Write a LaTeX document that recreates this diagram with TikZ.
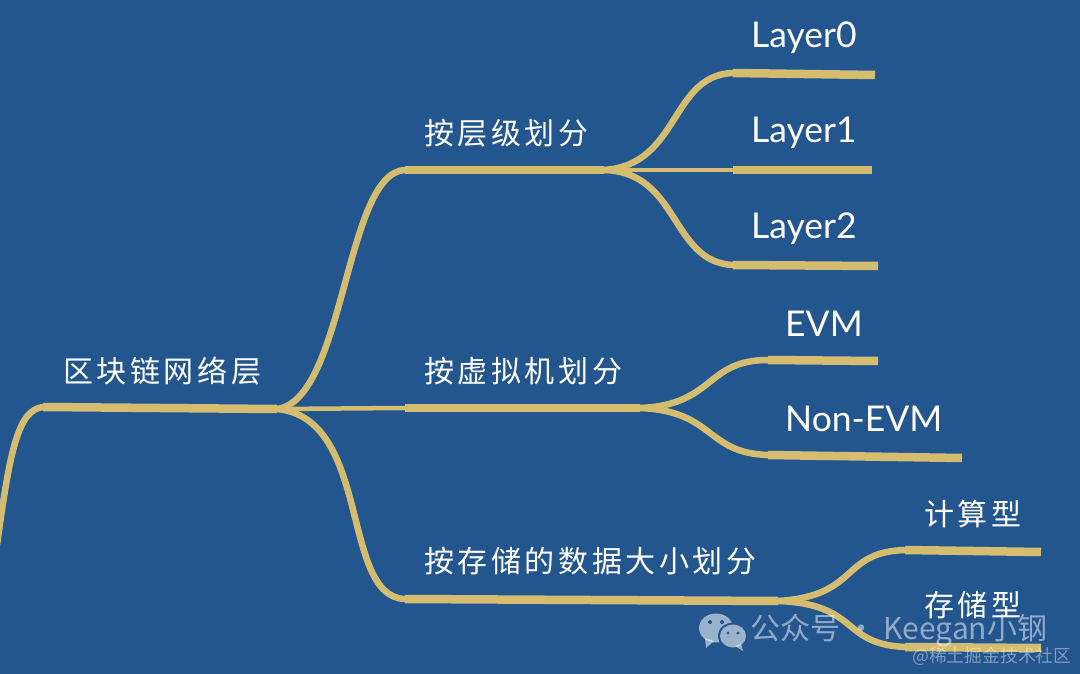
\documentclass[tikz,border=0pt]{standalone}
\usepackage{fontspec}
\setmainfont{Noto Sans CJK SC}
\newfontfamily\cjklabel[LetterSpace=12]{Noto Sans CJK SC}
\newfontfamily\latlabel{Lato}
\newfontfamily\markfont{Noto Sans CJK SC}
\definecolor{bgblue}{HTML}{23558F}
\definecolor{rope}{HTML}{D5BD6F}
\tikzset{
 x=1pt,y=-1pt,
 bar/.style={draw=rope,line width=8.5pt,line cap=butt},
 limb/.style={draw=rope,line width=6.5pt,line cap=round},
 thin limb/.style={draw=rope,line width=4.5pt,line cap=round},
 cnlabel/.style={text=white,font=\cjklabel\fontsize{30}{32}\selectfont,anchor=west,inner sep=0pt},
 enlabel/.style={text=white,font=\latlabel\fontsize{35.5}{38}\selectfont,anchor=west,inner sep=0pt},
 wm/.style={text=white,text opacity=.5,font=\markfont\fontsize{30}{32}\selectfont,anchor=west,inner sep=0pt},
 wmsmall/.style={text=white,text opacity=.42,font=\markfont\fontsize{17.8}{20}\selectfont,anchor=west,inner sep=0pt},
 bubble/.style={fill=white,fill opacity=.55,draw=none},
}
\begin{document}
\begin{tikzpicture}
\fill[bgblue] (0,0) rectangle (1080,674);
\useasboundingbox (0,0) rectangle (1080,674);
% anchors
\coordinate (off) at (-3,545);
\coordinate (rootL) at (43,407);
\coordinate (rootR) at (277,409);
\coordinate (aL) at (405,170);
\coordinate (aR) at (604,170);
\coordinate (bL) at (405,408);
\coordinate (bR) at (640,408);
\coordinate (cL) at (405,599);
\coordinate (cR) at (778,601);
\coordinate (a1L) at (733,73);
\coordinate (a1R) at (875,75);
\coordinate (a2L) at (733,170);
\coordinate (a2R) at (872,170);
\coordinate (a3L) at (733,265);
\coordinate (a3R) at (878,266);
\coordinate (b1L) at (768,360);
\coordinate (b1R) at (878,361);
\coordinate (b2L) at (768,455);
\coordinate (b2R) at (962,458);
\coordinate (c1L) at (905,550);
\coordinate (c1R) at (1041,552);
\coordinate (c2L) at (905,647);
\coordinate (c2R) at (1041,648);
% horizontal bars
\foreach \p/\q in {rootL/rootR,aL/aR,bL/bR,cL/cR,a1L/a1R,a2L/a2R,a3L/a3R,b1L/b1R,b2L/b2R,c1L/c1R,c2L/c2R}
  \draw[bar] (\p) -- (\q);
% curved limbs
\draw[limb] (off) .. controls (10,450) and (18,410) .. (rootL);
\draw[limb] (rootR) .. controls (345,400) and (345,172) .. (aL);
\draw[thin limb] (rootR) -- (bL);
\draw[limb] (rootR) .. controls (372,418) and (340,597) .. (cL);
\draw[limb] (aR) .. controls (680,165) and (670,75) .. (a1L);
\draw[thin limb] (aR) -- (a2L);
\draw[limb] (aR) .. controls (680,172) and (670,262) .. (a3L);
\draw[limb] (bR) .. controls (715,405) and (705,360) .. (b1L);
\draw[limb] (bR) .. controls (715,411) and (705,453) .. (b2L);
\draw[limb] (cR) .. controls (860,596) and (840,552) .. (c1L);
\draw[limb] (cR) .. controls (860,604) and (840,644) .. (c2L);
% labels
\node[cnlabel] (root) at (63,371) {区块链网络层};
\node[cnlabel] (a) at (424,133) {按层级划分};
\node[cnlabel] (b) at (424,371) {按虚拟机划分};
\node[cnlabel] (c) at (424,561) {按存储的数据大小划分};
\node[enlabel] (a1) at (751,38) {Layer0};
\node[enlabel] (a2) at (751,133) {Layer1};
\node[enlabel] (a3) at (751,229) {Layer2};
\node[enlabel] (b1) at (785,324) {EVM};
\node[enlabel] (b2) at (785,419) {Non-EVM};
\node[cnlabel] (c1) at (924,514) {计算型};
\node[cnlabel] (c2) at (924,605) {存储型};
% watermark
\fill[bubble] (716,628) ellipse [x radius=17,y radius=14.5];
\fill[bubble] (705,638) -- (706,648) -- (714,641) -- cycle;
\fill[bgblue] (733,636) ellipse [x radius=15,y radius=13.5];
\fill[bubble] (733,636) ellipse [x radius=13,y radius=11.5];
\fill[bubble] (741,644) -- (743,651) -- (735,646) -- cycle;
\fill[bgblue] (710,622) circle (2) (722,622) circle (2) (728,633) circle (1.7) (738,633) circle (1.7);
\node[wm] (wmA) at (750,631) {公众号 · Keegan小钢};
\node[wmsmall] (wmB) at (912,656) {@稀土掘金技术社区};
\end{tikzpicture}
\end{document}
